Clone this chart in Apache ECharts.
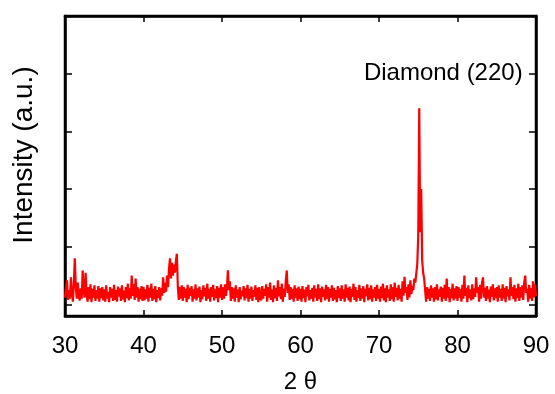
<!DOCTYPE html>
<html>
<head>
<meta charset="utf-8">
<script src="https://cdn.jsdelivr.net/npm/echarts@6/dist/echarts.min.js"></script>
<style>
  html, body { margin: 0; padding: 0; background: #fff; }
  #chart { width: 555px; height: 394px; }
</style>
</head>
<body>
<div id="chart"></div>
<script>
  // 2θ scan: start angle and step (deg)
  const angleStart = 30;
  const angleStep = 0.125;
  // intensity (a.u.), one value per step
  const intensity = [
    // 30.000 - 34.875
    0.12, 0.3, 0.42, 0.08, 0.25, 0.1, 0.47, 0.2, 0.05, 0.35,
    0.8, 0.3, 0.1, 0.38, 0.15, 0.07, 0.28, 0.1, 0.59, 0.25,
    0.12, 0.55, 0.18, 0.05, 0.3, 0.09, 0.35, 0.04, 0.27, 0.12,
    0.33, 0.06, 0.25, 0.1, 0.32, 0.05, 0.28, 0.11, 0.3, 0.07,
    // 35.000 - 39.875
    0.26, 0.05, 0.33, 0.1, 0.22, 0.04, 0.3, 0.12, 0.27, 0.06,
    0.34, 0.08, 0.25, 0.05, 0.31, 0.14, 0.28, 0.06, 0.33, 0.09,
    0.24, 0.04, 0.3, 0.11, 0.36, 0.07, 0.28, 0.1, 0.5, 0.15,
    0.35, 0.08, 0.45, 0.12, 0.3, 0.05, 0.27, 0.09, 0.32, 0.06,
    // 40.000 - 44.875
    0.3, 0.07, 0.26, 0.1, 0.34, 0.05, 0.29, 0.12, 0.36, 0.06,
    0.27, 0.09, 0.32, 0.04, 0.25, 0.11, 0.3, 0.07, 0.28, 0.15,
    0.47, 0.2, 0.38, 0.22, 0.5, 0.3, 0.62, 0.8, 0.45, 0.72,
    0.5, 0.69, 0.55, 0.75, 0.88, 0.3, 0.08, 0.3, 0.1, 0.33,
    // 45.000 - 49.875
    0.06, 0.3, 0.12, 0.27, 0.04, 0.34, 0.09, 0.29, 0.15, 0.32,
    0.05, 0.26, 0.1, 0.35, 0.07, 0.28, 0.12, 0.31, 0.04, 0.25,
    0.09, 0.33, 0.14, 0.29, 0.06, 0.36, 0.1, 0.27, 0.05, 0.3,
    0.13, 0.34, 0.07, 0.26, 0.11, 0.32, 0.04, 0.29, 0.12, 0.35,
    // 50.000 - 54.875
    0.08, 0.3, 0.1, 0.35, 0.15, 0.27, 0.59, 0.25, 0.4, 0.06,
    0.3, 0.1, 0.28, 0.05, 0.33, 0.12, 0.26, 0.04, 0.3, 0.09,
    0.24, 0.14, 0.32, 0.07, 0.28, 0.11, 0.34, 0.05, 0.27, 0.1,
    0.31, 0.06, 0.25, 0.13, 0.33, 0.08, 0.29, 0.04, 0.3, 0.12,
    // 55.000 - 59.875
    0.07, 0.32, 0.1, 0.27, 0.15, 0.35, 0.05, 0.3, 0.12, 0.38,
    0.08, 0.26, 0.04, 0.33, 0.11, 0.29, 0.06, 0.42, 0.14, 0.3,
    0.09, 0.36, 0.05, 0.27, 0.13, 0.4, 0.59, 0.2, 0.35, 0.08,
    0.3, 0.1, 0.27, 0.05, 0.33, 0.12, 0.28, 0.06, 0.31, 0.09,
    // 60.000 - 64.875
    0.27, 0.05, 0.32, 0.11, 0.26, 0.04, 0.3, 0.14, 0.34, 0.07,
    0.25, 0.1, 0.29, 0.05, 0.33, 0.12, 0.27, 0.06, 0.35, 0.09,
    0.28, 0.04, 0.31, 0.13, 0.26, 0.07, 0.34, 0.1, 0.3, 0.05,
    0.27, 0.12, 0.33, 0.06, 0.29, 0.09, 0.25, 0.04, 0.32, 0.11,
    // 65.000 - 69.875
    0.28, 0.06, 0.33, 0.1, 0.26, 0.05, 0.35, 0.12, 0.29, 0.07,
    0.31, 0.04, 0.27, 0.13, 0.36, 0.08, 0.3, 0.05, 0.25, 0.11,
    0.34, 0.06, 0.28, 0.1, 0.32, 0.04, 0.27, 0.14, 0.35, 0.07,
    0.29, 0.09, 0.33, 0.05, 0.26, 0.12, 0.3, 0.06, 0.34, 0.1,
    // 70.000 - 74.875
    0.27, 0.05, 0.31, 0.11, 0.36, 0.07, 0.28, 0.04, 0.33, 0.12,
    0.26, 0.06, 0.35, 0.09, 0.3, 0.05, 0.38, 0.13, 0.29, 0.07,
    0.34, 0.1, 0.27, 0.05, 0.4, 0.15, 0.48, 0.2, 0.3, 0.08,
    0.35, 0.12, 0.42, 0.18, 0.32, 0.25, 0.45, 0.38, 0.54, 0.7,
    // 75.000 - 79.875  (diamond 220 peak)
    1.2, 3.4, 1.25, 2.0, 0.76, 0.55, 0.45, 0.42, 0.05, 0.3,
    0.1, 0.27, 0.06, 0.33, 0.12, 0.28, 0.05, 0.3, 0.09, 0.35,
    0.07, 0.26, 0.13, 0.31, 0.05, 0.29, 0.1, 0.34, 0.06, 0.45,
    0.12, 0.3, 0.04, 0.27, 0.11, 0.36, 0.07, 0.28, 0.1, 0.32,
    // 80.000 - 84.875
    0.06, 0.3, 0.12, 0.27, 0.05, 0.34, 0.1, 0.5, 0.15, 0.29,
    0.04, 0.33, 0.11, 0.26, 0.07, 0.35, 0.09, 0.28, 0.13, 0.47,
    0.2, 0.3, 0.05, 0.34, 0.1, 0.38, 0.47, 0.12, 0.29, 0.06,
    0.32, 0.1, 0.26, 0.04, 0.31, 0.13, 0.35, 0.07, 0.28, 0.11,
    // 85.000 - 89.875
    0.3, 0.05, 0.33, 0.12, 0.27, 0.06, 0.35, 0.1, 0.29, 0.04,
    0.32, 0.14, 0.26, 0.07, 0.47, 0.15, 0.3, 0.09, 0.34, 0.05,
    0.28, 0.11, 0.36, 0.06, 0.3, 0.12, 0.33, 0.08, 0.38, 0.5,
    0.2, 0.27, 0.05, 0.34, 0.1, 0.29, 0.06, 0.4, 0.12, 0.35,
    // 90.000
    0.15
  ];
  const xTicks = [30, 40, 50, 60, 70, 80, 90];
  const yTicks = [0, 1, 2, 3, 4, 5];
  const peakLabel = 'Diamond (220)';
  const peakLabelAt = [88.3, 4.0];

  const points = intensity.map((v, i) => [angleStart + i * angleStep, v]);

  const font = 'Liberation Sans, Arial, sans-serif';
  const chart = echarts.init(document.getElementById('chart'));
  chart.setOption({
    animation: false,
    grid: {
      left: 65, right: 19, top: 16, bottom: 78,
      outerBoundsMode: 'none',
      show: true,
      borderColor: '#000',
      borderWidth: 2.5,
      backgroundColor: '#fff'
    },
    xAxis: [
      {
        type: 'value',
        position: 'bottom',
        min: 30, max: 90, interval: 10,
        name: '2 θ',
        nameLocation: 'middle',
        nameGap: 54,
        nameTextStyle: { color: '#000', fontSize: 24, fontFamily: font },
        axisLine: { show: true, onZero: false, lineStyle: { color: '#000', width: 2.5 } },
        axisTick: { inside: true, length: 6, lineStyle: { color: '#000', width: 1.5 }, customValues: xTicks },
        axisLabel: { color: '#000', fontSize: 24, fontFamily: font, margin: 18, customValues: xTicks },
        splitLine: { show: false }
      },
      {
        type: 'value',
        position: 'top',
        min: 30, max: 90, interval: 10,
        axisLine: { show: true, onZero: false, lineStyle: { color: '#000', width: 2.5 } },
        axisTick: { inside: true, length: 6, lineStyle: { color: '#000', width: 1.5 } },
        axisLabel: { show: false },
        splitLine: { show: false }
      }
    ],
    yAxis: [
      {
        type: 'value',
        position: 'left',
        min: -0.2, max: 5,
        name: 'Intensity (a.u.)',
        nameLocation: 'middle',
        nameGap: 27,
        nameTextStyle: { color: '#000', fontSize: 28, fontFamily: font, padding: [0, 0, 0, 22] },
        axisLine: { show: true, onZero: false, lineStyle: { color: '#000', width: 2.5 } },
        axisTick: { inside: true, length: 7, lineStyle: { color: '#000', width: 1.5 }, customValues: yTicks },
        axisLabel: { show: false, customValues: yTicks },
        splitLine: { show: false }
      },
      {
        type: 'value',
        position: 'right',
        min: -0.2, max: 5,
        axisLine: { show: true, onZero: false, lineStyle: { color: '#000', width: 2.5 } },
        axisTick: { inside: true, length: 7, lineStyle: { color: '#000', width: 1.5 }, customValues: yTicks },
        axisLabel: { show: false, customValues: yTicks },
        splitLine: { show: false }
      }
    ],
    series: [
      {
        type: 'line',
        data: points,
        showSymbol: false,
        symbol: 'none',
        lineStyle: { color: '#ff0000', width: 2.2 },
        z: 1,
        markPoint: {
          symbol: 'circle',
          symbolSize: 0,
          silent: true,
          label: {
            show: true,
            position: 'left',
            distance: 0,
            formatter: peakLabel,
            color: '#000',
            fontSize: 24,
            fontFamily: font
          },
          data: [{ coord: peakLabelAt }]
        }
      }
    ]
  });
</script>
</body>
</html>
